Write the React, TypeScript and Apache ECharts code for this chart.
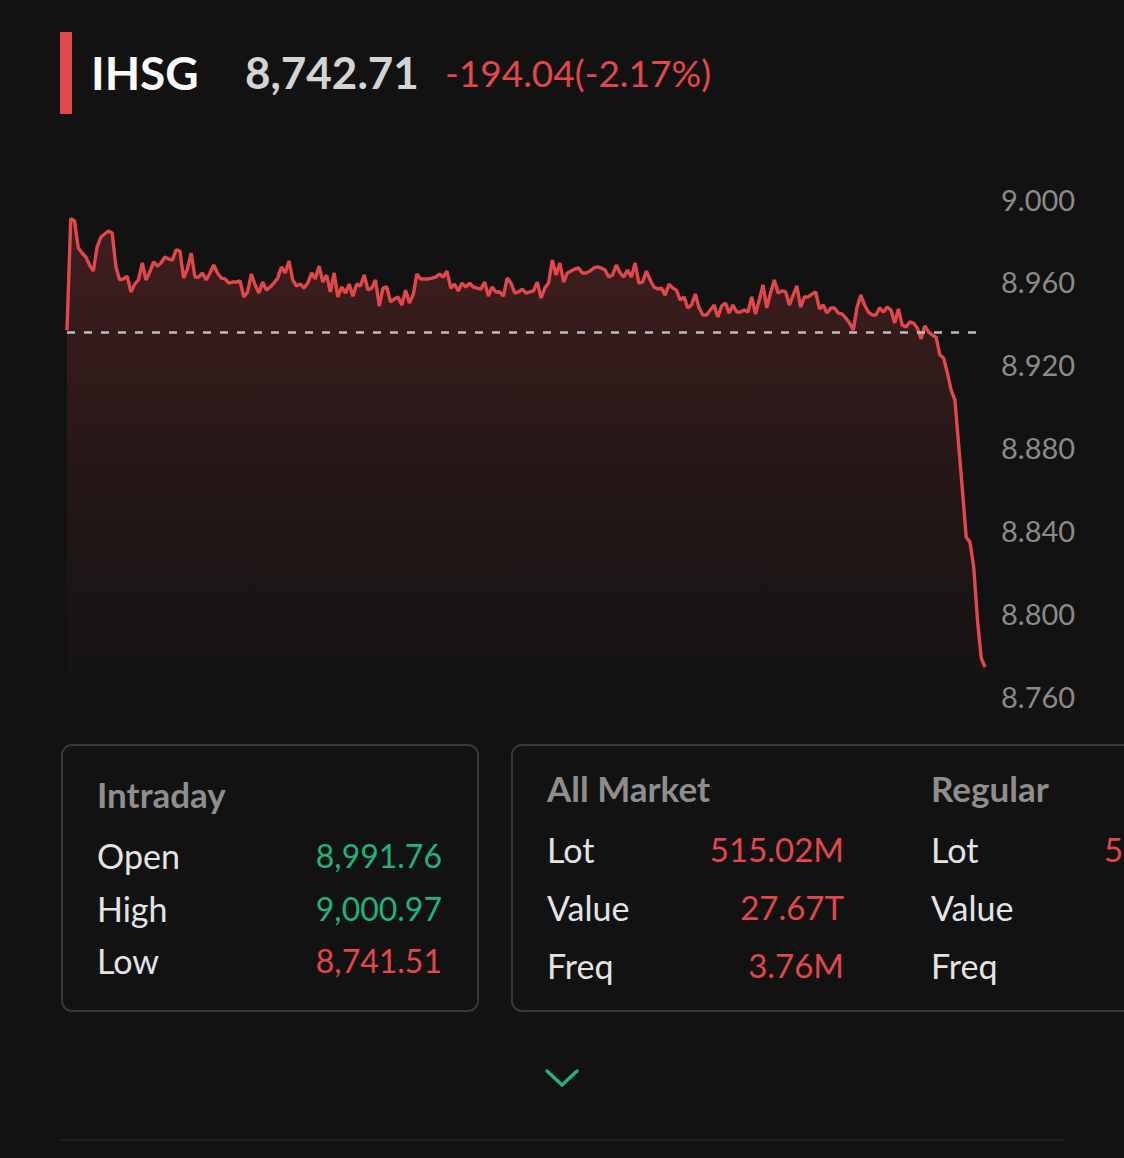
import React, { useEffect, useRef } from "react";
import * as echarts from "echarts";

// ---- data ----
const prices: number[] = [
  8936.7, 8990.5, 8989.5, 8976.3, 8973.9, 8972.0, 8968.1, 8965.2, 8976.8, 8981.6,
  8983.1, 8984.5, 8983.6, 8967.2, 8960.9, 8961.4, 8962.8, 8955.1, 8958.9, 8960.9,
  8969.1, 8960.9, 8964.7, 8969.6, 8967.6, 8969.1, 8972.0, 8971.0, 8970.5, 8975.4,
  8974.9, 8961.8, 8966.2, 8973.9, 8962.3, 8962.3, 8964.3, 8960.9, 8964.3, 8968.1,
  8964.3, 8961.8, 8961.4, 8959.4, 8959.9, 8959.9, 8960.4, 8952.7, 8955.1, 8963.8,
  8958.5, 8954.6, 8959.9, 8956.0, 8957.5, 8959.4, 8961.8, 8967.2, 8964.3, 8970.1,
  8960.9, 8958.0, 8958.9, 8957.0, 8959.4, 8964.3, 8961.4, 8967.6, 8959.9, 8963.3,
  8955.1, 8964.3, 8952.7, 8957.5, 8954.6, 8958.9, 8953.1, 8958.9, 8958.0, 8963.3,
  8956.0, 8957.0, 8960.9, 8948.3, 8957.0, 8957.5, 8950.3, 8951.7, 8952.7, 8948.8,
  8956.0, 8949.8, 8953.6, 8963.8, 8961.4, 8961.4, 8961.4, 8961.8, 8962.3, 8963.8,
  8962.3, 8965.2, 8957.0, 8958.9, 8955.6, 8959.4, 8957.5, 8959.4, 8957.5, 8957.0,
  8956.5, 8959.9, 8953.1, 8957.5, 8955.1, 8955.1, 8953.1, 8961.8, 8959.4, 8954.6,
  8955.1, 8956.5, 8954.6, 8955.1, 8955.6, 8959.9, 8952.2, 8957.0, 8959.4, 8970.5,
  8963.3, 8969.1, 8959.9, 8964.3, 8965.2, 8966.2, 8966.7, 8964.3, 8964.3, 8965.2,
  8966.7, 8967.2, 8966.7, 8965.7, 8962.3, 8963.3, 8968.1, 8964.3, 8962.3, 8965.7,
  8962.3, 8969.1, 8959.4, 8959.9, 8965.2, 8960.9, 8957.5, 8956.5, 8957.0, 8953.6,
  8958.9, 8957.0, 8956.0, 8951.2, 8952.7, 8947.4, 8948.8, 8954.1, 8947.4, 8944.0,
  8944.0, 8946.4, 8948.8, 8943.0, 8948.3, 8949.8, 8944.9, 8948.8, 8945.4, 8945.4,
  8946.4, 8945.4, 8952.7, 8944.5, 8951.2, 8958.5, 8947.4, 8954.6, 8960.9, 8954.6,
  8955.6, 8955.1, 8948.8, 8953.6, 8958.0, 8947.8, 8952.7, 8952.7, 8954.1, 8955.1,
  8946.9, 8948.8, 8944.9, 8947.4, 8947.4, 8944.9, 8944.5, 8942.5, 8940.1, 8936.7,
  8947.8, 8953.6, 8948.8, 8945.4, 8944.0, 8944.0, 8947.4, 8945.4, 8947.8, 8946.4,
  8940.1, 8946.9, 8939.1, 8938.2, 8940.6, 8940.1, 8937.7, 8932.4, 8938.7, 8935.8,
  8934.3, 8933.3, 8924.7, 8923.2, 8916.0, 8907.7, 8903.0, 8881.2, 8859.5, 8836.7,
  8834.3, 8822.3, 8796.7, 8778.3, 8774.0,
];
const prevClose = 8935.6;
const yMin = 8760;
const yMax = 9000;
const yStep = 40;

const symbol = "IHSG";
const lastPrice = "8,742.71";
const change = "-194.04(-2.17%)";

const intradayTitle = "Intraday";
const intradayLabels = ["Open", "High", "Low"];
const intradayValues = ["8,991.76", "9,000.97", "8,741.51"];
const intradayColors = ["green", "green", "red"];

const allMarketTitle = "All Market";
const regularTitle = "Regular";
const marketLabels = ["Lot", "Value", "Freq"];
const allMarketValues = ["515.02M", "27.67T", "3.76M"];
const regularValues = ["5", "", ""];

const RED = "#e2474b";
const GREEN = "#1eb47b";
const BG = "#121212";
const FONT = "Lato, 'Open Sans', sans-serif";

export default function App() {
  const ref = useRef<HTMLDivElement>(null);

  useEffect(() => {
    if (!ref.current) return;
    const chart = echarts.init(ref.current, null, { renderer: "svg" });

    const graphics: any[] = [];
    // header
    graphics.push({ type: "rect", shape: { x: 60, y: 32, width: 12, height: 82 }, style: { fill: RED } });
    graphics.push({
      type: "text", x: 91, y: 72,
      style: { text: symbol, fill: "#fafafa", font: `bold 46px ${FONT}`, textVerticalAlign: "middle" },
    });
    graphics.push({
      type: "text", x: 245, y: 72,
      style: { text: lastPrice, fill: "#d4d4d4", font: `bold 44px ${FONT}`, textVerticalAlign: "middle" },
    });
    graphics.push({
      type: "text", x: 445, y: 72,
      style: { text: change, fill: RED, font: `37px ${FONT}`, textVerticalAlign: "middle" },
    });

    // panels
    graphics.push({
      type: "rect", shape: { x: 62, y: 745, width: 416, height: 266, r: 10 },
      style: { fill: "none", stroke: "#383838", lineWidth: 2 },
    });
    graphics.push({
      type: "rect", shape: { x: 512, y: 745, width: 700, height: 266, r: 10 },
      style: { fill: "none", stroke: "#383838", lineWidth: 2 },
    });

    graphics.push({
      type: "text", x: 97, y: 794,
      style: { text: intradayTitle, fill: "#8e8e8e", font: `bold 35px ${FONT}`, textVerticalAlign: "middle" },
    });
    const rowY = [855, 908, 960];
    intradayLabels.forEach((l, i) => {
      graphics.push({
        type: "text", x: 97, y: rowY[i],
        style: { text: l, fill: "#e4e4e4", font: `34px ${FONT}`, textVerticalAlign: "middle" },
      });
      graphics.push({
        type: "text", x: 442, y: rowY[i],
        style: {
          text: intradayValues[i], fill: intradayColors[i] === "green" ? GREEN : RED,
          font: `32px ${FONT}`, textAlign: "right", textVerticalAlign: "middle",
        },
      });
    });

    graphics.push({
      type: "text", x: 547, y: 788,
      style: { text: allMarketTitle, fill: "#8e8e8e", font: `bold 35px ${FONT}`, textVerticalAlign: "middle" },
    });
    graphics.push({
      type: "text", x: 931, y: 788,
      style: { text: regularTitle, fill: "#8e8e8e", font: `bold 35px ${FONT}`, textVerticalAlign: "middle" },
    });
    const mRowY = [849, 907, 965];
    marketLabels.forEach((l, i) => {
      graphics.push({
        type: "text", x: 547, y: mRowY[i],
        style: { text: l, fill: "#e4e4e4", font: `34px ${FONT}`, textVerticalAlign: "middle" },
      });
      graphics.push({
        type: "text", x: 844, y: mRowY[i],
        style: { text: allMarketValues[i], fill: RED, font: `33px ${FONT}`, textAlign: "right", textVerticalAlign: "middle" },
      });
      graphics.push({
        type: "text", x: 931, y: mRowY[i],
        style: { text: l, fill: "#e4e4e4", font: `34px ${FONT}`, textVerticalAlign: "middle" },
      });
      if (regularValues[i]) {
        graphics.push({
          type: "text", x: 1104, y: mRowY[i],
          style: { text: regularValues[i], fill: RED, font: `33px ${FONT}`, textVerticalAlign: "middle" },
        });
      }
    });

    // chevron
    graphics.push({
      type: "polyline",
      shape: { points: [[547, 1071], [562, 1085], [577, 1071]] },
      style: { stroke: GREEN, lineWidth: 3.5, fill: "none", lineCap: "round", lineJoin: "round" },
    });
    // separator
    graphics.push({
      type: "line",
      shape: { x1: 60, y1: 1140, x2: 1065, y2: 1140 },
      style: { stroke: "#1f1f1f", lineWidth: 2 },
    });

    chart.setOption({
      animation: false,
      backgroundColor: BG,
      grid: { left: 67, top: 199, width: 918, height: 497 },
      xAxis: {
        type: "category",
        data: prices.map((_, i) => i),
        boundaryGap: false,
        show: false,
      },
      yAxis: {
        type: "value",
        position: "right",
        min: yMin,
        max: yMax,
        interval: yStep,
        axisLine: { show: false },
        axisTick: { show: false },
        splitLine: { show: false },
        axisLabel: {
          margin: 16,
          align: "left",
          color: "#8a8a8a",
          fontSize: 29,
          fontFamily: FONT,
          formatter: (v: number) => (v / 1000).toFixed(3),
        },
      },
      series: [
        {
          type: "line",
          data: prices,
          showSymbol: false,
          symbol: "none",
          lineStyle: { color: RED, width: 3.4 },
          areaStyle: {
            color: new echarts.graphic.LinearGradient(0, 0, 0, 1, [
              { offset: 0, color: "rgba(226,72,72,0.32)" },
              { offset: 0.6, color: "rgba(226,72,72,0.11)" },
              { offset: 1, color: "rgba(226,72,72,0.01)" },
            ]),
          },
          markLine: {
            silent: true,
            symbol: "none",
            label: { show: false },
            lineStyle: { color: "#bdbdbd", width: 2.5, type: [8, 9] },
            data: [{ yAxis: prevClose }],
          },
          z: 3,
        },
      ],
      graphic: graphics,
    });

    return () => chart.dispose();
  }, []);

  return (
    <div
      ref={ref}
      style={{ position: "absolute", left: 0, top: 0, width: 1124, height: 1158, background: BG }}
    />
  );
}
